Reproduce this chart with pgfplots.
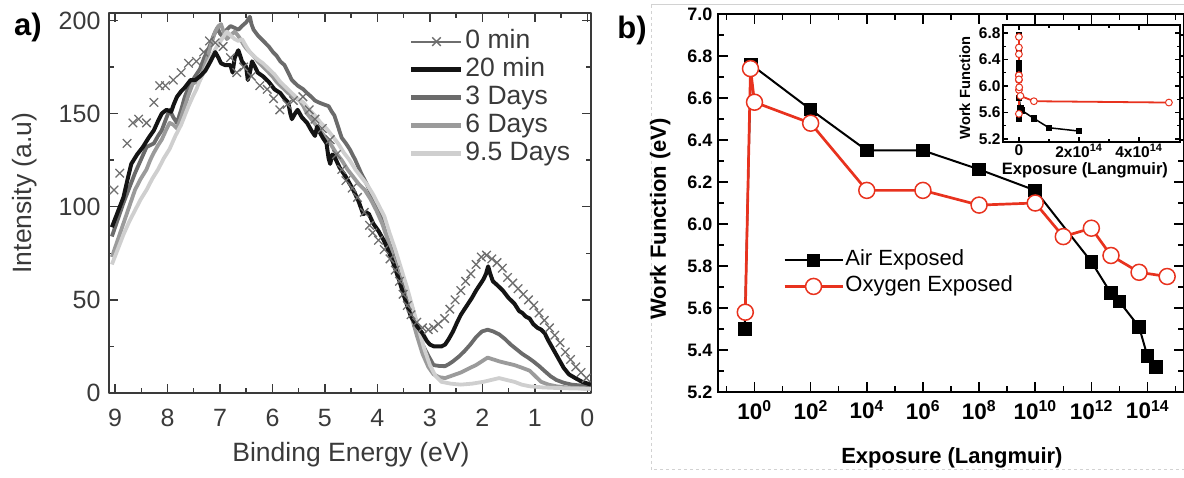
\documentclass[border=0pt]{standalone}
\usepackage{pgfplots}
\pgfplotsset{compat=1.18}
\usepackage{fontspec}
\setmainfont{Liberation Sans}
\definecolor{txta}{HTML}{3A3A3A}
\definecolor{axa}{HTML}{3A3A3A}
\definecolor{c0}{HTML}{6E6E6E}
\definecolor{c20}{HTML}{141414}
\definecolor{c3}{HTML}{6B6B6B}
\definecolor{c6}{HTML}{9B9B9B}
\definecolor{c9}{HTML}{CFCFCF}
\definecolor{ored}{HTML}{E8321E}
\begin{document}
\begin{tikzpicture}[x=1pt,y=1pt]
\useasboundingbox (0,0) rectangle (1184,478);
\draw[gray!35, line width=1pt] (651,473) -- (1184,473);
\draw[gray!35, line width=1pt, dashed] (651,473) -- (651,8) -- (1184,8);
\node[font=\fontsize{31}{34}\selectfont\bfseries] at (28,451) {a)};
\node[font=\fontsize{31}{34}\selectfont\bfseries] at (632,448) {b)};
% ---------------- panel a
\begin{axis}[
  at={(109pt,85pt)}, anchor=south west, width=482pt, height=380pt, scale only axis,
  xmin=-0.07, xmax=9.115, x dir=reverse, ymin=0, ymax=204,
  xtick={0,1,2,3,4,5,6,7,8,9}, ytick={0,50,100,150,200},
  minor x tick num=1, minor y tick num=1,
  tick align=inside, major tick length=9pt, minor tick length=5pt,
  axis line style={line width=2pt, color=axa},
  tick style={line width=1.5pt, color=axa},
  tick label style={font=\fontsize{25}{28}\selectfont, color=txta},
  /pgf/number format/assume math mode=true,
  xticklabel style={yshift=-13pt},
  yticklabel style={xshift=-5pt},
  every axis x label/.style={at={(axis description cs:0.502,-0.163)}, anchor=center},
  every axis y label/.style={at={(axis description cs:-0.174,0.526)}, rotate=90, anchor=center},
  label style={font=\fontsize{26.5}{30}\selectfont, color=txta},
  xlabel={Binding Energy (eV)}, ylabel={Intensity (a.u)},
  legend image code/.code={\draw[mark repeat=2,mark phase=2,#1] plot coordinates {(0pt,0pt) (25pt,0pt) (50pt,0pt)};},
  legend cell align=left,
  legend style={at={(0.622,0.962)}, anchor=north west, draw=none, fill=none,
    font=\fontsize{26.5}{30}\selectfont, text=txta, inner sep=0pt, row sep=0pt,
    nodes={inner sep=1.5pt, text height=19pt, text depth=6pt},
    /tikz/every even column/.append style={column sep=11pt}},
  line join=round,
]
\addlegendimage{color=c0, line width=2pt, mark=x, mark size=6pt, mark options={line width=1.5pt}}
\addlegendentry{0 min}
\addlegendimage{color=c20, line width=5pt}
\addlegendentry{20 min}
\addlegendimage{color=c3, line width=4.5pt}
\addlegendentry{3 Days}
\addlegendimage{color=c6, line width=4.5pt}
\addlegendentry{6 Days}
\addlegendimage{color=c9, line width=4.5pt}
\addlegendentry{9.5 Days}
% 3 Days
\addplot[forget plot, color=c3, line width=3.8pt] coordinates {
(9.06,84)(8.95,93)(8.84,102)(8.73,110)(8.62,118)(8.51,125)(8.40,132)(8.33,133)(8.26,134)(8.18,138)(8.11,141)(8.03,147)(7.96,152)(7.89,148)(7.82,145)(7.74,152)(7.67,159)(7.60,164)(7.52,168)(7.45,171)(7.38,174)(7.30,180)(7.20,186)(7.12,192)(7.05,196)(7.00,193)(6.94,191)(6.87,195)(6.80,197)(6.72,196)(6.65,195)(6.58,197)(6.50,199)(6.43,202)(6.40,198)(6.36,195)(6.28,192)(6.21,190)(6.14,188)(6.07,186)(5.99,183)(5.92,181)(5.85,178)(5.77,176)(5.70,172)(5.63,168)(5.52,165)(5.41,163)(5.34,161)(5.26,159)(5.19,157)(5.12,156)(5.03,155)(4.93,154)(4.87,151)(4.82,149)(4.75,143)(4.68,137)(4.60,134)(4.53,131)(4.42,125)(4.31,118)(4.20,112)(4.09,105)(4.02,100)(3.95,96)(3.88,90)(3.80,84)(3.69,74)(3.58,64)(3.47,56)(3.36,48)(3.25,37)(3.14,26)(3.03,20)(2.93,15)(2.82,14.5)(2.71,14.4)(2.64,15.5)(2.56,17)(2.45,19.5)(2.34,22.5)(2.23,26)(2.12,30)(2.01,33)(1.90,34)(1.79,33)(1.68,31.5)(1.57,29)(1.46,26)(1.35,23.5)(1.24,21)(1.13,19)(1.03,17)(0.92,14.5)(0.81,11.7)(0.70,9)(0.59,7)(0.45,5.5)(0.30,4.5)(0.12,4)(-0.07,3.6)};
% 6 Days
\addplot[forget plot, color=c6, line width=3.8pt] coordinates {
(9.06,73)(8.95,82)(8.84,91)(8.73,100)(8.62,109)(8.51,115)(8.40,120)(8.33,125)(8.26,129)(8.18,133)(8.11,136)(8.03,141)(7.96,145)(7.89,144)(7.82,142)(7.74,148)(7.67,154)(7.60,160)(7.52,166)(7.45,167)(7.38,168)(7.30,175)(7.23,181)(7.16,188)(7.09,194)(7.03,197)(6.98,198)(6.92,193)(6.87,190)(6.80,192)(6.72,194)(6.66,192)(6.61,190)(6.55,187)(6.50,185)(6.43,183)(6.36,181)(6.28,178)(6.21,176)(6.14,174)(6.07,172)(6.00,170)(5.92,167)(5.81,164)(5.70,161)(5.59,159)(5.48,157)(5.41,154)(5.34,150)(5.23,146)(5.12,142)(5.01,138)(4.90,134)(4.79,129)(4.68,125)(4.57,120)(4.46,116)(4.35,112)(4.24,109)(4.13,104)(4.02,98)(3.91,91)(3.80,82)(3.69,72)(3.58,62)(3.47,52)(3.36,42)(3.25,31)(3.14,21)(3.03,14)(2.93,10)(2.82,8.5)(2.71,8)(2.56,9.5)(2.41,11)(2.27,13)(2.12,15)(2.01,17)(1.90,19)(1.79,18)(1.68,17)(1.54,16)(1.39,15)(1.24,13.5)(1.10,12)(0.99,9)(0.88,6)(0.74,4.5)(0.59,3.6)(0.40,3)(0.23,2.7)(-0.07,2.3)};
% 9.5 Days
\addplot[forget plot, color=c9, line width=3.8pt] coordinates {
(9.06,69)(8.95,77)(8.84,85)(8.73,92)(8.62,98)(8.51,104)(8.40,109)(8.29,115)(8.18,120)(8.07,126)(7.96,131)(7.85,138)(7.74,144)(7.67,149)(7.60,154)(7.52,159)(7.45,163)(7.38,168)(7.31,172)(7.23,177)(7.16,181)(7.08,185)(7.01,188)(6.94,191)(6.87,194)(6.80,192)(6.72,190)(6.65,189)(6.58,190)(6.50,186)(6.43,183)(6.36,181)(6.28,179)(6.18,177)(6.07,174)(5.96,171)(5.85,167)(5.74,164)(5.63,161)(5.52,158)(5.41,156)(5.30,152)(5.19,149)(5.08,145)(4.97,142)(4.86,138)(4.75,134)(4.64,129)(4.53,125)(4.42,120)(4.31,116)(4.20,112)(4.09,107)(3.98,101)(3.87,95)(3.77,86)(3.66,77)(3.55,67)(3.44,57)(3.33,46)(3.22,35)(3.11,24)(3.00,15)(2.89,9)(2.78,6)(2.60,5)(2.41,4.5)(2.20,5)(1.98,6)(1.83,7)(1.68,8)(1.54,7)(1.39,6)(1.25,4.5)(1.10,3.6)(0.85,3)(0.59,2.7)(0.25,2.4)(-0.07,2.3)};
% 20 min
\addplot[forget plot, color=c20, line width=4pt] coordinates {
(9.06,89)(8.95,97)(8.84,105)(8.75,116)(8.69,123)(8.58,128)(8.47,132)(8.36,137)(8.26,141)(8.18,146)(8.11,150)(8.02,152)(7.93,151)(7.88,155)(7.82,159)(7.74,162)(7.67,164)(7.56,168)(7.47,168)(7.38,170)(7.28,173)(7.20,177)(7.09,183)(7.03,180)(6.98,177)(6.90,176)(6.80,176)(6.76,172)(6.72,180)(6.65,184)(6.58,178)(6.50,175)(6.47,168)(6.43,172)(6.39,178)(6.33,175)(6.28,172)(6.18,170)(6.07,167)(5.96,163)(5.85,161)(5.77,158)(5.70,156)(5.66,150)(5.63,147)(5.57,150)(5.52,152)(5.44,148)(5.34,145)(5.26,141)(5.19,138)(5.15,143)(5.12,141)(5.04,137)(4.97,134)(4.93,126)(4.90,123)(4.86,128)(4.82,127)(4.72,121)(4.60,116)(4.52,112)(4.46,109)(4.36,103)(4.27,96)(4.21,97)(4.16,96)(4.08,91)(3.98,87)(3.88,82)(3.80,77)(3.70,70)(3.58,60)(3.47,50)(3.36,41)(3.25,36)(3.14,32)(3.06,28)(3.00,26)(2.92,25)(2.85,25)(2.78,25)(2.71,26)(2.64,29)(2.56,33)(2.48,38)(2.41,42)(2.34,45)(2.27,48)(2.20,51)(2.12,55)(2.05,58)(1.98,61)(1.93,64)(1.89,68)(1.85,64)(1.80,60)(1.72,58)(1.61,55)(1.50,51)(1.39,48)(1.30,44)(1.24,43)(1.17,41)(1.10,40)(1.03,37)(0.95,35)(0.88,34)(0.81,32)(0.74,28)(0.66,24)(0.56,19)(0.45,13.5)(0.35,10)(0.23,8)(0.10,6)(-0.07,4.5)};
% 0 min
\addplot[forget plot, only marks, color=c0, mark=x, mark size=6pt, mark options={line width=1.3pt}] coordinates {
(9.02,109)(8.91,118)(8.77,134)(8.66,145)(8.55,147)(8.40,145)(8.26,156)(8.15,165)(8.04,165)(7.89,168)(7.74,172)(7.60,177)(7.45,178)(7.31,183)(7.20,189)(7.09,188)(6.94,186)(6.80,180)(6.68,172)(6.55,175)(6.40,170)(6.24,165)(6.10,163)(5.98,158)(5.86,152)(5.72,155)(5.60,157)(5.42,159)(5.30,152)(5.19,147)(5.05,142)(4.90,136)(4.78,128)(4.68,120)(4.60,114)(4.48,110)(4.38,105)(4.25,97)(4.15,90)(4.09,86)(3.98,82)(3.87,77)(3.76,72)(3.66,66)(3.58,60)(3.51,53)(3.43,47)(3.36,42)(3.25,38)(3.14,35)(3.03,34)(2.93,35)(2.84,37)(2.72,40)(2.62,45)(2.52,50)(2.41,55)(2.32,60)(2.22,64)(2.12,69)(2.02,73)(1.92,74)(1.82,72)(1.72,70)(1.62,67)(1.52,62)(1.42,59)(1.32,56)(1.22,53)(1.12,50)(1.02,47)(0.92,43)(0.82,39)(0.72,35)(0.62,31)(0.52,27)(0.42,22)(0.32,18)(0.22,14)(0.12,11)(0.02,8)};
\end{axis}
% ---------------- panel b
\begin{axis}[
  at={(718pt,86pt)}, anchor=south west, width=466pt, height=378pt, scale only axis,
  xmode=log, log basis x=10, xmin=0.0501, xmax=1.995e15, ymin=5.2, ymax=7.0,
  xtick={1,1e2,1e4,1e6,1e8,1e10,1e12,1e14},
  xticklabels={10\textsuperscript{0},10\textsuperscript{2},10\textsuperscript{4},10\textsuperscript{6},10\textsuperscript{8},10\textsuperscript{10},10\textsuperscript{12},10\textsuperscript{14}},
  minor xtick={1e-1,1e1,1e3,1e5,1e7,1e9,1e11,1e13,1e15},
  ytick={5.2,5.4,5.6,5.8,6.0,6.2,6.4,6.6,6.8,7.0},
  minor ytick={5.3,5.5,5.7,5.9,6.1,6.3,6.5,6.7,6.9},
  /pgf/number format/assume math mode=true,
  tick align=inside, major tick length=10pt, minor tick length=6pt,
  axis line style={line width=2.5pt},
  tick style={line width=1.5pt, color=black},
  xticklabel style={font=\fontsize{22.5}{25}\selectfont\bfseries, yshift=-5pt},
  yticklabel style={font=\fontsize{18}{21}\selectfont\bfseries, xshift=-2pt,
    /pgf/number format/fixed, /pgf/number format/fixed zerofill, /pgf/number format/precision=1},
  every axis x label/.style={at={(axis description cs:0.502,-0.175)}, anchor=center},
  every axis y label/.style={at={(axis description cs:-0.124,0.458)}, rotate=90, anchor=center},
  label style={font=\fontsize{22}{26}\selectfont\bfseries},
  xlabel={Exposure (Langmuir)}, ylabel={Work Function (eV)},
  legend image code/.code={\draw[mark repeat=2,mark phase=2,#1] plot coordinates {(0pt,0pt) (29pt,0pt) (58pt,0pt)};},
  legend cell align=left,
  legend style={at={(0.1395,0.383)}, anchor=north west, draw=none, fill=none,
    font=\fontsize{22}{26}\selectfont, inner sep=0pt, row sep=0pt,
    nodes={inner sep=1.5pt, text height=17pt, text depth=6pt},
    /tikz/every even column/.append style={column sep=5pt}},
]
\addplot[color=black, line width=2pt, mark=square*, mark size=5.8pt, mark options={solid}] coordinates {
(0.45,5.50)(0.74,6.76)(1e2,6.545)(1e4,6.35)(1e6,6.35)(1e8,6.26)(1e10,6.16)(1e12,5.82)(5e12,5.67)(1e13,5.63)(5e13,5.51)(1e14,5.37)(2e14,5.32)};
\addlegendentry{Air Exposed}
\addplot[color=ored, line width=2.7pt, mark=*, mark size=8pt, mark options={fill=white, draw=ored, line width=1.5pt}] coordinates {
(0.47,5.58)(0.72,6.74)(1,6.58)(1e2,6.48)(1e4,6.16)(1e6,6.16)(1e8,6.09)(1e10,6.10)(1e11,5.94)(1e12,5.98)(5e12,5.85)(5e13,5.77)(5e14,5.75)};
\addlegendentry{Oxygen Exposed}
\end{axis}
% ---------------- inset
\begin{axis}[
  at={(1003pt,336pt)}, anchor=south west, width=177pt, height=117pt, scale only axis,
  axis background/.style={fill=white},
  xmin=-0.53, xmax=5.37, ymin=5.155, ymax=6.92,
  xtick={0,2,4}, xticklabels={0,2x10\textsuperscript{14},4x10\textsuperscript{14}},
  minor x tick num=1,
  ytick={5.2,5.6,6.0,6.4,6.8}, minor y tick num=1,
  /pgf/number format/assume math mode=true,
  tick align=inside, major tick length=5pt, minor tick length=3pt,
  axis line style={line width=1.5pt},
  tick style={line width=1.2pt, color=black},
  tick label style={font=\fontsize{15.5}{18}\selectfont\bfseries},
  xticklabel style={yshift=1pt},
  yticklabel style={xshift=1pt,
    /pgf/number format/fixed, /pgf/number format/fixed zerofill, /pgf/number format/precision=1},
  every axis x label/.style={at={(axis description cs:0.463,-0.24)}, anchor=center},
  every axis y label/.style={at={(axis description cs:-0.215,0.46)}, rotate=90, anchor=center},
  xlabel style={font=\fontsize{16.5}{19}\selectfont\bfseries},
  ylabel style={font=\fontsize{14.7}{17}\selectfont\bfseries},
  xlabel={Exposure (Langmuir)}, ylabel={Work Function},
]
\addplot[color=black, line width=1.5pt, mark=square*, mark size=2.4pt] coordinates {
(0,5.50)(0,6.76)(0,6.545)(0,6.35)(0,6.35)(0,6.26)(0,6.16)(0.01,5.82)(0.05,5.67)(0.1,5.63)(0.5,5.51)(1,5.37)(2,5.32)};
\addplot[color=ored, line width=1.8pt, mark=*, mark size=3.4pt, mark options={fill=white, draw=ored, line width=1pt}] coordinates {
(0,5.58)(0,6.74)(0,6.58)(0,6.48)(0,6.16)(0,6.16)(0,6.09)(0,6.10)(0.001,5.94)(0.01,5.98)(0.05,5.85)(0.5,5.77)(5,5.75)};
\end{axis}
\end{tikzpicture}
\end{document}
